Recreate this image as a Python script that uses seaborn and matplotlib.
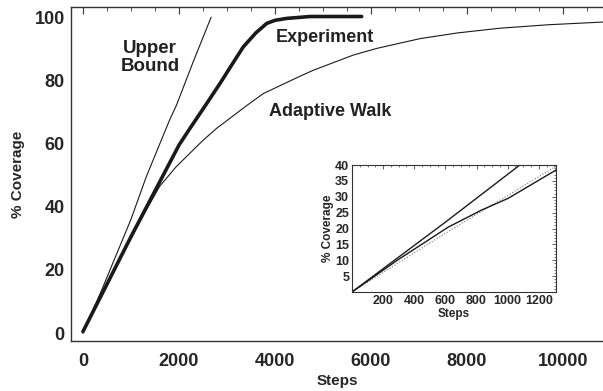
import matplotlib
matplotlib.use("Agg")
import matplotlib.pyplot as plt
import seaborn as sns
from matplotlib.ticker import MultipleLocator

# main panel curves
upper_x = [0, 400, 1000, 1319, 1806, 1944, 2300, 2670]
upper_y = [0, 14, 36, 49.5, 67.5, 72, 86, 100]

exp_x = [0, 500, 1000, 1500, 2000, 2229, 2570, 2854, 3100, 3340, 3600, 3826, 4000, 4243, 4729, 5806]
exp_y = [0.5, 15.5, 30.5, 45, 59.5, 64.8, 72.5, 79, 84.9, 90.6, 95, 98, 99, 99.6, 100.2, 100.2]

walk_x = [0, 500, 1000, 1319, 1600, 1944, 2500, 2784, 3410, 3756, 4521, 4799, 5632,
          6118, 7021, 7800, 8687, 9700, 10770, 10900]
walk_y = [0, 15, 30, 39, 46.5, 52.7, 61, 64.8, 72, 75.8, 81.3, 83.2, 88,
          90.1, 93.2, 95, 96.5, 97.6, 98.4, 98.5]

# inset curves
in_upper_x = [0, 600, 1078]
in_upper_y = [0, 22, 40]
in_exp_x = [0, 300, 617, 832, 1003, 1313]
in_exp_y = [0, 10.3, 20.4, 25.8, 29.5, 38.5]
in_dot_x = [0, 600, 1313]
in_dot_y = [0, 18.5, 39.7]

sns.set_style("white")
plt.rcParams["font.family"] = ["Liberation Sans", "DejaVu Sans"]
plt.rcParams["font.weight"] = "bold"

fig = plt.figure(figsize=(6.03, 3.91), dpi=100)
ax = fig.add_axes([0.1177, 0.1279, 0.8823, 0.8541])

k = "#1a1a1a"
sns.lineplot(x=upper_x, y=upper_y, ax=ax, color=k, lw=0.8)
sns.lineplot(x=walk_x, y=walk_y, ax=ax, color=k, lw=0.8)
sns.lineplot(x=exp_x, y=exp_y, ax=ax, color=k, lw=2.6)

ax.set_xlim(-250, 10833)
ax.set_ylim(-2.5, 103.2)
ax.xaxis.set_major_locator(MultipleLocator(2000))
ax.xaxis.set_minor_locator(MultipleLocator(500))
ax.yaxis.set_major_locator(MultipleLocator(20))
ax.yaxis.set_minor_locator(MultipleLocator(5))
ax.tick_params(which="both", direction="in", top=True, right=False, color="#333333")
ax.tick_params(which="major", length=5, width=0.8, labelsize=13)
ax.tick_params(axis="x", which="major", pad=9)
ax.tick_params(axis="y", which="major", pad=4.5)
ax.tick_params(which="minor", length=3, width=0.6)
for lab in ax.get_xticklabels() + ax.get_yticklabels():
    lab.set_fontweight("bold")
for s in ["left", "bottom", "top"]:
    ax.spines[s].set_color("#333333")
    ax.spines[s].set_linewidth(1.0)
ax.spines["right"].set_visible(False)
ax.set_xlabel("Steps", fontsize=11, fontweight="bold", labelpad=2.5)
ax.set_ylabel("% Coverage", fontsize=11, fontweight="bold", labelpad=7)

ax.text(1396, 87.3, "Upper\nBound", ha="center", va="center", fontsize=13.5,
        fontweight="bold", color="#222222", linespacing=1.1)
ax.text(5040, 93.7, "Experiment", ha="center", va="center", fontsize=13,
        fontweight="bold", color="#222222")
ax.text(5146, 70, "Adaptive Walk", ha="center", va="center", fontsize=13,
        fontweight="bold", color="#222222")

# inset
ins = fig.add_axes([0.5837, 0.2532, 0.3383, 0.3248])
sns.lineplot(x=in_dot_x, y=in_dot_y, ax=ins, color="#777777", lw=0.8, ls=":")
sns.lineplot(x=in_upper_x, y=in_upper_y, ax=ins, color=k, lw=1.0)
sns.lineplot(x=in_exp_x, y=in_exp_y, ax=ins, color=k, lw=1.0)
ins.set_xlim(0, 1310)
ins.set_ylim(0, 40)
ins.set_xticks([200, 400, 600, 800, 1000, 1200])
ins.set_yticks([5, 10, 15, 20, 25, 30, 35, 40])
ins.xaxis.set_minor_locator(MultipleLocator(50))
ins.yaxis.set_minor_locator(MultipleLocator(1))
ins.tick_params(which="both", direction="in", top=True, right=True, color="#444444")
ins.tick_params(which="major", length=3, width=0.6, labelsize=9, pad=2)
ins.tick_params(which="minor", length=1.5, width=0.5)
for lab in ins.get_xticklabels() + ins.get_yticklabels():
    lab.set_fontweight("bold")
for s in ins.spines.values():
    s.set_color("#333333")
    s.set_linewidth(0.8)
ins.set_xlabel("Steps", fontsize=8.5, fontweight="bold", labelpad=1)
ins.set_ylabel("% Coverage", fontsize=8.5, fontweight="bold", labelpad=1)

fig.savefig("out.png", dpi=100)
